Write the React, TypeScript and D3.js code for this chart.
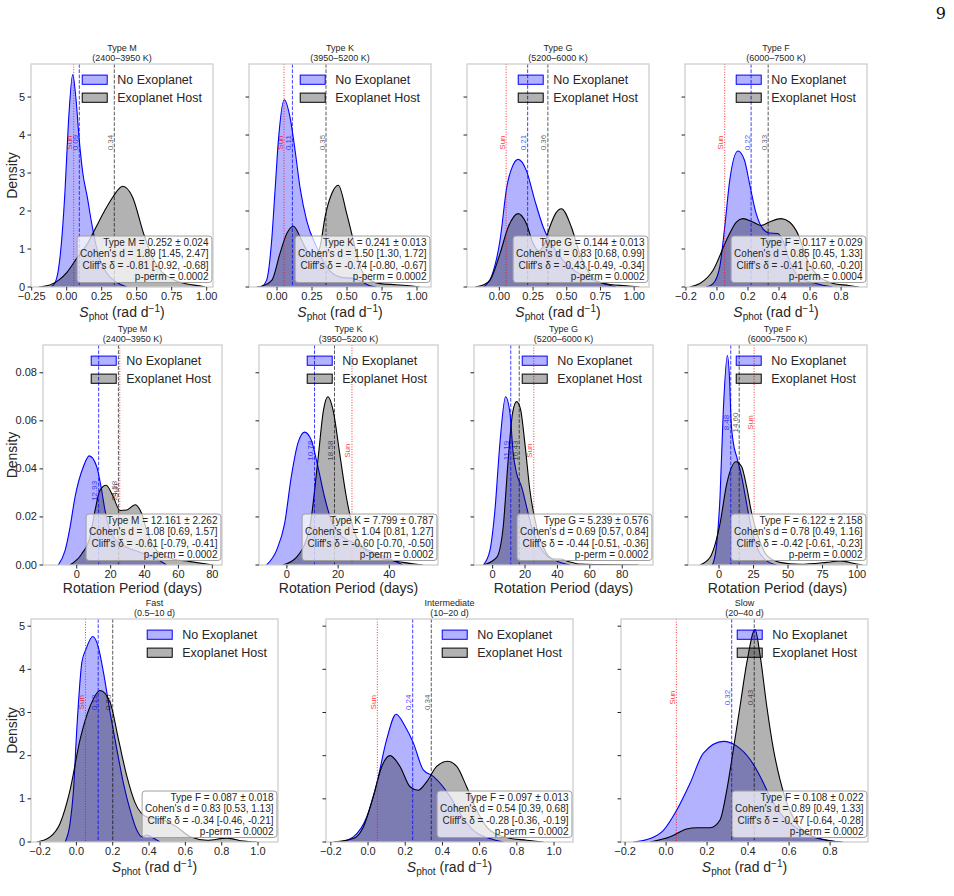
import React, { useRef, useEffect } from "react";
import * as d3 from "d3";

type Pt = [number, number];

// KDE curves of S_phot by spectral type (x, density)
const sphotNoneM: Pt[] = [[-0.115, 0], [-0.085, 0.1], [-0.06, 0.44], [-0.036, 1.23], [-0.012, 2.54], [0.012, 4.3], [0.043, 5.59], [0.065, 5.0], [0.09, 3.86], [0.115, 3.0], [0.147, 2.37], [0.175, 1.75], [0.202, 1.23], [0.23, 0.8], [0.26, 0.53], [0.3, 0.3], [0.35, 0.14], [0.43, 0]];
const sphotHostM: Pt[] = [[-0.2, 0], [-0.12, 0.05], [-0.05, 0.2], [0.0, 0.38], [0.08, 0.8], [0.15, 1.15], [0.21, 1.58], [0.27, 2.0], [0.33, 2.37], [0.4, 2.65], [0.47, 2.37], [0.55, 1.4], [0.61, 0.8], [0.67, 0.44], [0.76, 0.2], [0.86, 0.08], [0.95, 0.03], [0.99, 0]];
const sphotNoneK: Pt[] = [[-0.11, 0], [-0.074, 0.18], [-0.038, 1.23], [-0.014, 2.54], [0.01, 3.86], [0.052, 4.93], [0.093, 4.47], [0.129, 3.6], [0.164, 2.63], [0.212, 1.75], [0.283, 1.05], [0.355, 0.53], [0.45, 0.26], [0.55, 0.22], [0.6, 0.15], [0.66, 0.04], [0.71, 0]];
const sphotHostK: Pt[] = [[-0.145, 0], [-0.1, 0.03], [-0.036, 0.18], [0.021, 0.88], [0.069, 1.4], [0.117, 1.6], [0.176, 1.23], [0.22, 0.92], [0.27, 0.79], [0.31, 1.1], [0.343, 1.84], [0.39, 2.45], [0.438, 2.68], [0.498, 1.93], [0.545, 1.23], [0.58, 0.7], [0.617, 0.35], [0.68, 0.15], [0.736, 0.09], [0.85, 0.06], [0.926, 0.04], [1.02, 0]];
const sphotNoneG: Pt[] = [[-0.118, 0], [-0.056, 0.3], [0.005, 1.23], [0.055, 2.63], [0.1, 3.2], [0.14, 3.36], [0.2, 3.07], [0.263, 2.28], [0.325, 1.58], [0.4, 1.05], [0.52, 0.53], [0.645, 0.26], [0.77, 0.09], [0.866, 0]];
const sphotHostG: Pt[] = [[-0.18, 0], [-0.12, 0.05], [-0.069, 0.18], [0.005, 0.88], [0.066, 1.58], [0.14, 1.93], [0.2, 1.67], [0.25, 1.15], [0.29, 0.95], [0.33, 1.1], [0.374, 1.58], [0.42, 1.95], [0.46, 2.06], [0.534, 1.58], [0.596, 0.88], [0.67, 0.35], [0.77, 0.1], [0.94, 0.03], [1.04, 0]];
const sphotNoneF: Pt[] = [[-0.07, 0], [-0.025, 0.09], [0.018, 0.53], [0.05, 1.58], [0.082, 2.8], [0.135, 3.58], [0.178, 3.33], [0.21, 2.72], [0.253, 1.93], [0.296, 1.53], [0.338, 1.42], [0.392, 1.41], [0.424, 1.23], [0.467, 0.7], [0.53, 0.26], [0.638, 0.09], [0.744, 0]];
const sphotHostF: Pt[] = [[-0.175, 0], [-0.11, 0.09], [-0.025, 0.44], [0.061, 1.23], [0.125, 1.71], [0.167, 1.8], [0.231, 1.71], [0.285, 1.62], [0.338, 1.71], [0.413, 1.8], [0.467, 1.71], [0.53, 1.32], [0.574, 0.79], [0.638, 0.35], [0.744, 0.1], [0.85, 0.04], [0.915, 0]];

// KDE curves of rotation period (days)
const protNoneM: Pt[] = [[-10.9, 0], [-6.9, 0.006], [-3.95, 0.0157], [-1, 0.0283], [3.9, 0.0409], [7.4, 0.0454], [11.8, 0.0409], [14.7, 0.0311], [16.7, 0.0227], [19.6, 0.0144], [23.6, 0.0102], [29.5, 0.0074], [37.3, 0.0053], [45.2, 0.0032], [53.1, 0]];
const protHostM: Pt[] = [[-4, 0], [2.9, 0.0046], [7.8, 0.0116], [10.8, 0.0227], [13.7, 0.0311], [17.3, 0.0332], [21.6, 0.0283], [25.5, 0.0227], [29.5, 0.0229], [34.4, 0.0251], [38.3, 0.0214], [41.3, 0.0144], [47.2, 0.006], [57, 0.0025], [66, 0.0015], [80.6, 0]];
const protNoneK: Pt[] = [[-8, 0], [-4.1, 0.006], [-0.9, 0.0172], [1.7, 0.0367], [4.3, 0.0507], [6.9, 0.0553], [9.5, 0.052], [12.1, 0.0409], [14.7, 0.0283], [17.3, 0.0186], [21.9, 0.0116], [27.1, 0.0088], [32.3, 0.006], [38.8, 0.0032], [45.3, 0]];
const protHostK: Pt[] = [[-1.6, 0], [3.7, 0.0032], [8.9, 0.0157], [12.1, 0.0437], [14.3, 0.0646], [16, 0.07], [18, 0.0646], [20.6, 0.0465], [23.2, 0.0283], [25.8, 0.0157], [29.7, 0.0074], [36.2, 0.0032], [45.3, 0.0011], [53.1, 0]];
const protNoneG: Pt[] = [[-5.8, 0], [-1.7, 0.006], [1.4, 0.0227], [4.5, 0.0507], [8, 0.07], [10.7, 0.0632], [12.7, 0.0465], [14.8, 0.0381], [17.9, 0.0325], [21, 0.0241], [24.1, 0.0157], [28.1, 0.0088], [33.3, 0.0039], [39.5, 0.0017], [47.7, 0]];
const protHostG: Pt[] = [[-5.8, 0], [2.5, 0.0032], [6.5, 0.0157], [9.6, 0.0437], [12.3, 0.0632], [14.8, 0.068], [17.3, 0.0646], [19.9, 0.0507], [23, 0.0311], [27.2, 0.0157], [32.3, 0.006], [37.4, 0.0025], [41.5, 0.0025], [45.7, 0.0017], [53.9, 0.0004], [66.2, 0.0002], [90, 0]];
const protNoneF: Pt[] = [[-5, 0], [-4.1, 0.0011], [-1.7, 0.0088], [0.7, 0.0283], [3.1, 0.0646], [6, 0.0872], [7.5, 0.0786], [8.7, 0.0604], [10.4, 0.0507], [12.8, 0.045], [16.4, 0.0367], [20, 0.0255], [23.7, 0.0144], [28.5, 0.006], [34.6, 0.0017], [41.8, 0]];
const protHostF: Pt[] = [[-13.8, 0], [-6.5, 0.0032], [0.7, 0.0172], [5.6, 0.0339], [12.3, 0.043], [16.4, 0.0409], [20, 0.0325], [23.7, 0.0214], [28.5, 0.0116], [34.6, 0.004], [44, 0.0011], [58.7, 0.0003], [78, 0.0011], [87.7, 0.0017], [99.8, 0.0004], [104, 0]];

// KDE curves of S_phot by rotation regime
const sphotNoneFast: Pt[] = [[-0.062, 0], [-0.035, 0.43], [-0.016, 1.2], [0.002, 2.6], [0.03, 4.16], [0.053, 4.47], [0.09, 4.76], [0.121, 4.51], [0.149, 3.93], [0.186, 2.99], [0.223, 2.14], [0.259, 1.36], [0.296, 0.74], [0.333, 0.27], [0.36, 0.12], [0.388, 0.16], [0.424, 0.09], [0.461, 0]];
const sphotHostFast: Pt[] = [[-0.218, 0], [-0.145, 0.12], [-0.09, 0.43], [-0.035, 1.2], [0.02, 2.37], [0.076, 3.15], [0.131, 3.51], [0.186, 3.23], [0.232, 2.37], [0.278, 1.52], [0.324, 0.9], [0.388, 0.58], [0.48, 0.51], [0.553, 0.35], [0.627, 0.12], [0.719, 0.04], [0.829, 0.09], [0.921, 0.02], [0.994, 0]];
const sphotNoneMid: Pt[] = [[-0.15, 0], [-0.079, 0.12], [-0.007, 0.58], [0.047, 1.36], [0.1, 2.37], [0.151, 2.96], [0.199, 2.68], [0.244, 2.29], [0.297, 1.67], [0.351, 1.52], [0.396, 1.32], [0.441, 1.05], [0.495, 0.66], [0.566, 0.27], [0.656, 0.08], [0.727, 0]];
const sphotHostMid: Pt[] = [[-0.186, 0], [-0.079, 0.08], [-0.025, 0.35], [0.028, 1.05], [0.074, 1.75], [0.118, 2.0], [0.172, 1.75], [0.226, 1.28], [0.27, 1.2], [0.316, 1.4], [0.369, 1.75], [0.428, 1.87], [0.477, 1.75], [0.53, 1.28], [0.584, 0.74], [0.638, 0.35], [0.727, 0.12], [0.853, 0.04], [0.943, 0]];
const sphotNoneSlow: Pt[] = [[-0.16, 0], [-0.078, 0.08], [-0.013, 0.27], [0.052, 0.74], [0.117, 1.36], [0.182, 2.06], [0.28, 2.33], [0.345, 2.22], [0.41, 1.91], [0.459, 1.52], [0.507, 1.05], [0.572, 0.58], [0.654, 0.27], [0.751, 0.08], [0.849, 0]];
const sphotHostSlow: Pt[] = [[-0.078, 0], [0.02, 0.12], [0.1, 0.3], [0.15, 0.33], [0.215, 0.33], [0.263, 0.51], [0.296, 1.2], [0.328, 2.14], [0.361, 3.15], [0.394, 4.16], [0.434, 4.92], [0.459, 4.31], [0.491, 3.15], [0.524, 2.14], [0.556, 1.44], [0.589, 0.9], [0.637, 0.43], [0.702, 0.16], [0.783, 0.04], [0.864, 0]];

const SUN_SPHOT = 0.05;
const SUN_PROT = 25.4;

const statsSphotM = ["Type M = 0.252 ± 0.024", "Cohen's d = 1.89 [1.45, 2.47]", "Cliff's δ = -0.81 [-0.92, -0.68]", "p-perm = 0.0002"];
const statsSphotK = ["Type K = 0.241 ± 0.013", "Cohen's d = 1.50 [1.30, 1.72]", "Cliff's δ = -0.74 [-0.80, -0.67]", "p-perm = 0.0002"];
const statsSphotG = ["Type G = 0.144 ± 0.013", "Cohen's d = 0.83 [0.68, 0.99]", "Cliff's δ = -0.43 [-0.49, -0.34]", "p-perm = 0.0002"];
const statsSphotF = ["Type F = 0.117 ± 0.029", "Cohen's d = 0.85 [0.45, 1.33]", "Cliff's δ = -0.41 [-0.60, -0.20]", "p-perm = 0.0004"];
const statsProtM = ["Type M = 12.161 ± 2.262", "Cohen's d = 1.08 [0.69, 1.57]", "Cliff's δ = -0.61 [-0.79, -0.41]", "p-perm = 0.0002"];
const statsProtK = ["Type K = 7.799 ± 0.787", "Cohen's d = 1.04 [0.81, 1.27]", "Cliff's δ = -0.60 [-0.70, -0.50]", "p-perm = 0.0002"];
const statsProtG = ["Type G = 5.239 ± 0.576", "Cohen's d = 0.69 [0.57, 0.84]", "Cliff's δ = -0.44 [-0.51, -0.36]", "p-perm = 0.0002"];
const statsProtF = ["Type F = 6.122 ± 2.158", "Cohen's d = 0.78 [0.49, 1.16]", "Cliff's δ = -0.42 [-0.61, -0.23]", "p-perm = 0.0002"];
const statsFast = ["Type F = 0.087 ± 0.018", "Cohen's d = 0.83 [0.53, 1.13]", "Cliff's δ = -0.34 [-0.46, -0.21]", "p-perm = 0.0002"];
const statsMid = ["Type F = 0.097 ± 0.013", "Cohen's d = 0.54 [0.39, 0.68]", "Cliff's δ = -0.28 [-0.36, -0.19]", "p-perm = 0.0002"];
const statsSlow = ["Type F = 0.108 ± 0.022", "Cohen's d = 0.89 [0.49, 1.33]", "Cliff's δ = -0.47 [-0.64, -0.28]", "p-perm = 0.0002"];

const sphotTicksA = [-0.25, 0, 0.25, 0.5, 0.75, 1];
const sphotTicksB = [-0.2, 0, 0.2, 0.4, 0.6, 0.8, 1.0];
const protTicks80 = [0, 20, 40, 60, 80];
const protTicks40 = [0, 20, 40];
const protTicks100 = [0, 25, 50, 75, 100];

interface Panel {
  title: string;
  sub: string;
  none: Pt[];
  host: Pt[];
  medNone: number;
  medHost: number;
  sun: number;
  stats: string[];
  domain: [number, number];
  ticks: number[];
  fmt: string;
}

interface Row {
  top: number;
  bottom: number;
  lefts: number[];
  width: number;
  yTicks: number[];
  yFmt: string;
  xlabel: "sphot" | "prot";
  panels: Panel[];
}

const rows: Row[] = [
  {
    top: 64, bottom: 287, lefts: [31, 249, 467, 685], width: 182,
    yTicks: [0, 1, 2, 3, 4, 5], yFmt: "d", xlabel: "sphot",
    panels: [
      { title: "Type M", sub: "(2400–3950 K)", none: sphotNoneM, host: sphotHostM, medNone: 0.09, medHost: 0.34, sun: SUN_SPHOT, stats: statsSphotM, domain: [-0.255, 1.045], ticks: sphotTicksA, fmt: ".2f" },
      { title: "Type K", sub: "(3950–5200 K)", none: sphotNoneK, host: sphotHostK, medNone: 0.11, medHost: 0.35, sun: SUN_SPHOT, stats: statsSphotK, domain: [-0.2, 1.1], ticks: sphotTicksA, fmt: ".2f" },
      { title: "Type G", sub: "(5200–6000 K)", none: sphotNoneG, host: sphotHostG, medNone: 0.21, medHost: 0.36, sun: SUN_SPHOT, stats: statsSphotG, domain: [-0.24, 1.11], ticks: sphotTicksA, fmt: ".2f" },
      { title: "Type F", sub: "(6000–7500 K)", none: sphotNoneF, host: sphotHostF, medNone: 0.22, medHost: 0.33, sun: SUN_SPHOT, stats: statsSphotF, domain: [-0.206, 0.967], ticks: sphotTicksB, fmt: ".1f" },
    ],
  },
  {
    top: 345, bottom: 565, lefts: [43, 259, 474, 688], width: 179,
    yTicks: [0, 0.02, 0.04, 0.06, 0.08], yFmt: ".2f", xlabel: "prot",
    panels: [
      { title: "Type M", sub: "(2400–3950 K)", none: protNoneM, host: protHostM, medNone: 12.93, medHost: 24.58, sun: SUN_PROT, stats: statsProtM, domain: [-19.9, 85.7], ticks: protTicks80, fmt: "d" },
      { title: "Type K", sub: "(3950–5200 K)", none: protNoneK, host: protHostK, medNone: 10.78, medHost: 18.58, sun: SUN_PROT, stats: statsProtK, domain: [-10.9, 59], ticks: protTicks40, fmt: "d" },
      { title: "Type G", sub: "(5200–6000 K)", none: protNoneG, host: protHostG, medNone: 11.19, medHost: 16.43, sun: SUN_PROT, stats: statsProtG, domain: [-11.5, 99], ticks: protTicks80, fmt: "d" },
      { title: "Type F", sub: "(6000–7500 K)", none: protNoneF, host: protHostF, medNone: 8.48, medHost: 14.6, sun: SUN_PROT, stats: statsProtF, domain: [-22.5, 107.2], ticks: protTicks100, fmt: "d" },
    ],
  },
  {
    top: 619, bottom: 842, lefts: [31, 326, 621], width: 247,
    yTicks: [0, 1, 2, 3, 4, 5], yFmt: "d", xlabel: "sphot",
    panels: [
      { title: "Fast", sub: "(0.5–10 d)", none: sphotNoneFast, host: sphotHostFast, medNone: 0.12, medHost: 0.2, sun: SUN_SPHOT, stats: statsFast, domain: [-0.25, 1.11], ticks: sphotTicksB, fmt: ".1f" },
      { title: "Intermediate", sub: "(10–20 d)", none: sphotNoneMid, host: sphotHostMid, medNone: 0.24, medHost: 0.34, sun: SUN_SPHOT, stats: statsMid, domain: [-0.226, 1.102], ticks: sphotTicksB, fmt: ".1f" },
      { title: "Slow", sub: "(20–40 d)", none: sphotNoneSlow, host: sphotHostSlow, medNone: 0.32, medHost: 0.43, sun: SUN_SPHOT, stats: statsSlow, domain: [-0.22, 0.985], ticks: sphotTicksB, fmt: ".1f" },
    ],
  },
];

const FONT = "'Liberation Sans', Arial, Helvetica, sans-serif";
const INK = "#262626";
const SPINE = "#cccccc";

const fmtTick = (f: string) => (v: number) => d3.format(f)(v).replace("-", "−");

const App = () => {
  const svgRef = useRef<SVGSVGElement>(null);

  useEffect(() => {
    if (!svgRef.current) return;
    const svg = d3.select(svgRef.current);
    svg.selectAll("*").remove();

    // page number
    svg.append("text").attr("x", 946).attr("y", 19).attr("text-anchor", "end")
      .attr("font-family", "'DejaVu Serif', 'Liberation Serif', serif").attr("font-size", 16)
      .attr("fill", "#111").text("9");

    const defs = svg.append("defs");

    // width of the longest legend entry
    const probe = svg.append("text").attr("font-family", FONT).attr("font-size", 12.5).text("Exoplanet Host");
    const legendW = (probe.node() as SVGTextElement).getComputedTextLength();
    probe.remove();

    rows.forEach((row, ri) => {
      const rowMax = d3.max(row.panels.flatMap((p) => [...p.none, ...p.host].map((d) => d[1]))) ?? 1;
      const y = d3.scaleLinear().domain([0, rowMax * 1.05]).range([row.bottom, row.top]);
      // shared y grows panel by panel, the reference-line labels follow it
      let runningPeak = 0;

      row.panels.forEach((p, ci) => {
        const left = row.lefts[ci];
        const right = left + row.width;
        const x = d3.scaleLinear().domain(p.domain).range([left, right]);
        const g = svg.append("g").attr("font-family", FONT);
        const clipId = `clip-${ri}-${ci}`;
        defs.append("clipPath").attr("id", clipId).append("rect")
          .attr("x", left).attr("y", row.top).attr("width", row.width).attr("height", row.bottom - row.top);

        const plot = g.append("g").attr("clip-path", `url(#${clipId})`);
        const area = d3.area<Pt>().x((d) => x(d[0])).y0(y(0)).y1((d) => y(d[1])).curve(d3.curveMonotoneX);
        const line = d3.line<Pt>().x((d) => x(d[0])).y((d) => y(d[1])).curve(d3.curveMonotoneX);

        plot.append("path").attr("d", area(p.none)).attr("fill", "rgba(0,0,255,0.3)");
        plot.append("path").attr("d", line(p.none)).attr("fill", "none").attr("stroke", "#0000ff").attr("stroke-width", 1.1);
        plot.append("path").attr("d", area(p.host)).attr("fill", "rgba(0,0,0,0.3)");
        plot.append("path").attr("d", line(p.host)).attr("fill", "none").attr("stroke", "#000").attr("stroke-width", 1.1);

        // reference lines: Sun and the two medians
        const vlines = [
          { v: p.sun, color: "rgba(255,0,0,0.8)", dash: "1,1.6", label: "Sun" },
          { v: p.medNone, color: "rgba(0,0,255,0.75)", dash: "3.7,1.6", label: p.medNone.toFixed(2) },
          { v: p.medHost, color: "rgba(0,0,0,0.65)", dash: "3.7,1.6", label: p.medHost.toFixed(2) },
        ];
        runningPeak = Math.max(runningPeak, d3.max([...p.none, ...p.host], (d) => d[1]) ?? 0);
        const labelY = y(runningPeak * 0.68);
        vlines.forEach((l) => {
          plot.append("line").attr("x1", x(l.v)).attr("x2", x(l.v)).attr("y1", row.top).attr("y2", row.bottom)
            .attr("stroke", l.color).attr("stroke-width", 1).attr("stroke-dasharray", l.dash);
          g.append("text").attr("transform", `translate(${x(l.v) - 1.5},${labelY}) rotate(-90)`)
            .attr("text-anchor", "middle").attr("font-size", 8).attr("fill", l.color).text(l.label);
        });

        // frame
        g.append("rect").attr("x", left).attr("y", row.top).attr("width", row.width).attr("height", row.bottom - row.top)
          .attr("fill", "none").attr("stroke", SPINE).attr("stroke-width", 1.25);

        // x ticks
        const xf = fmtTick(p.fmt);
        p.ticks.filter((t) => t >= p.domain[0] && t <= p.domain[1]).forEach((t) => {
          g.append("line").attr("x1", x(t)).attr("x2", x(t)).attr("y1", row.bottom).attr("y2", row.bottom + 3.5)
            .attr("stroke", INK).attr("stroke-width", 1);
          g.append("text").attr("x", x(t)).attr("y", row.bottom + 12.5).attr("text-anchor", "middle")
            .attr("font-size", 11).attr("fill", INK).text(xf(t));
        });

        // y ticks (labels on first column only)
        const yf = fmtTick(row.yFmt);
        row.yTicks.forEach((t) => {
          g.append("line").attr("x1", left - 3.5).attr("x2", left).attr("y1", y(t)).attr("y2", y(t))
            .attr("stroke", INK).attr("stroke-width", 1);
          if (ci === 0) {
            g.append("text").attr("x", left - 6).attr("y", y(t)).attr("dy", "0.32em").attr("text-anchor", "end")
              .attr("font-size", 11).attr("fill", INK).text(yf(t));
          }
        });

        // title
        const cx = (left + right) / 2;
        g.append("text").attr("x", cx).attr("y", row.top - 13).attr("text-anchor", "middle")
          .attr("font-size", 9).attr("fill", INK).text(p.title);
        g.append("text").attr("x", cx).attr("y", row.top - 3).attr("text-anchor", "middle")
          .attr("font-size", 9).attr("fill", INK).text(p.sub);

        // axis labels
        const xl = g.append("text").attr("x", cx).attr("text-anchor", "middle")
          .attr("font-size", 14).attr("fill", INK);
        if (row.xlabel === "sphot") {
          xl.attr("y", row.bottom + 29.5);
          xl.append("tspan").attr("font-style", "italic").text("S");
          xl.append("tspan").attr("font-size", 10).attr("dy", 3).text("phot");
          xl.append("tspan").attr("dy", -3).text(" (rad d");
          xl.append("tspan").attr("font-size", 10).attr("dy", -5).text("−1");
          xl.append("tspan").attr("dy", 5).text(")");
        } else {
          xl.attr("y", row.bottom + 27.5).text("Rotation Period (days)");
        }
        if (ci === 0) {
          g.append("text").attr("transform", `translate(17,${(row.top + row.bottom) / 2}) rotate(-90)`)
            .attr("text-anchor", "middle").attr("font-size", 14).attr("fill", INK).text("Density");
        }

        // legend
        const textX = right - 11 - legendW;
        const patchX = textX - 10 - 25;
        const entries = [
          { label: "No Exoplanet", fill: "rgba(0,0,255,0.3)", stroke: "#0000ff" },
          { label: "Exoplanet Host", fill: "rgba(0,0,0,0.3)", stroke: "#000" },
        ];
        entries.forEach((e, i) => {
          const cy = row.top + 15.7 + i * 18;
          g.append("rect").attr("x", patchX).attr("y", cy - 4.6).attr("width", 25).attr("height", 9.2)
            .attr("fill", e.fill).attr("stroke", e.stroke).attr("stroke-width", 1);
          g.append("text").attr("x", textX).attr("y", cy).attr("dy", "0.36em").attr("font-size", 12.5)
            .attr("fill", INK).text(e.label);
        });

        // statistics box
        const sg = g.append("g");
        const tx = right - 4.5;
        const lastBase = row.bottom - 7;
        p.stats.forEach((s, i) => {
          sg.append("text").attr("x", tx).attr("y", lastBase - (p.stats.length - 1 - i) * 11.5)
            .attr("text-anchor", "end").attr("font-size", 10).attr("fill", INK).text(s);
        });
        const bb = (sg.node() as SVGGElement).getBBox();
        sg.insert("rect", "text").attr("x", bb.x - 3).attr("y", bb.y - 0.5)
          .attr("width", bb.width + 6).attr("height", bb.height + 1).attr("rx", 3)
          .attr("fill", "rgba(255,255,255,0.72)").attr("stroke", "#a0a0a0").attr("stroke-width", 1);
      });
    });
  }, []);

  return (
    <div style={{ position: "absolute", left: 0, top: 0, width: 954, height: 896, background: "#fff" }}>
      <svg ref={svgRef} width={954} height={896}></svg>
    </div>
  );
};

export default App;
